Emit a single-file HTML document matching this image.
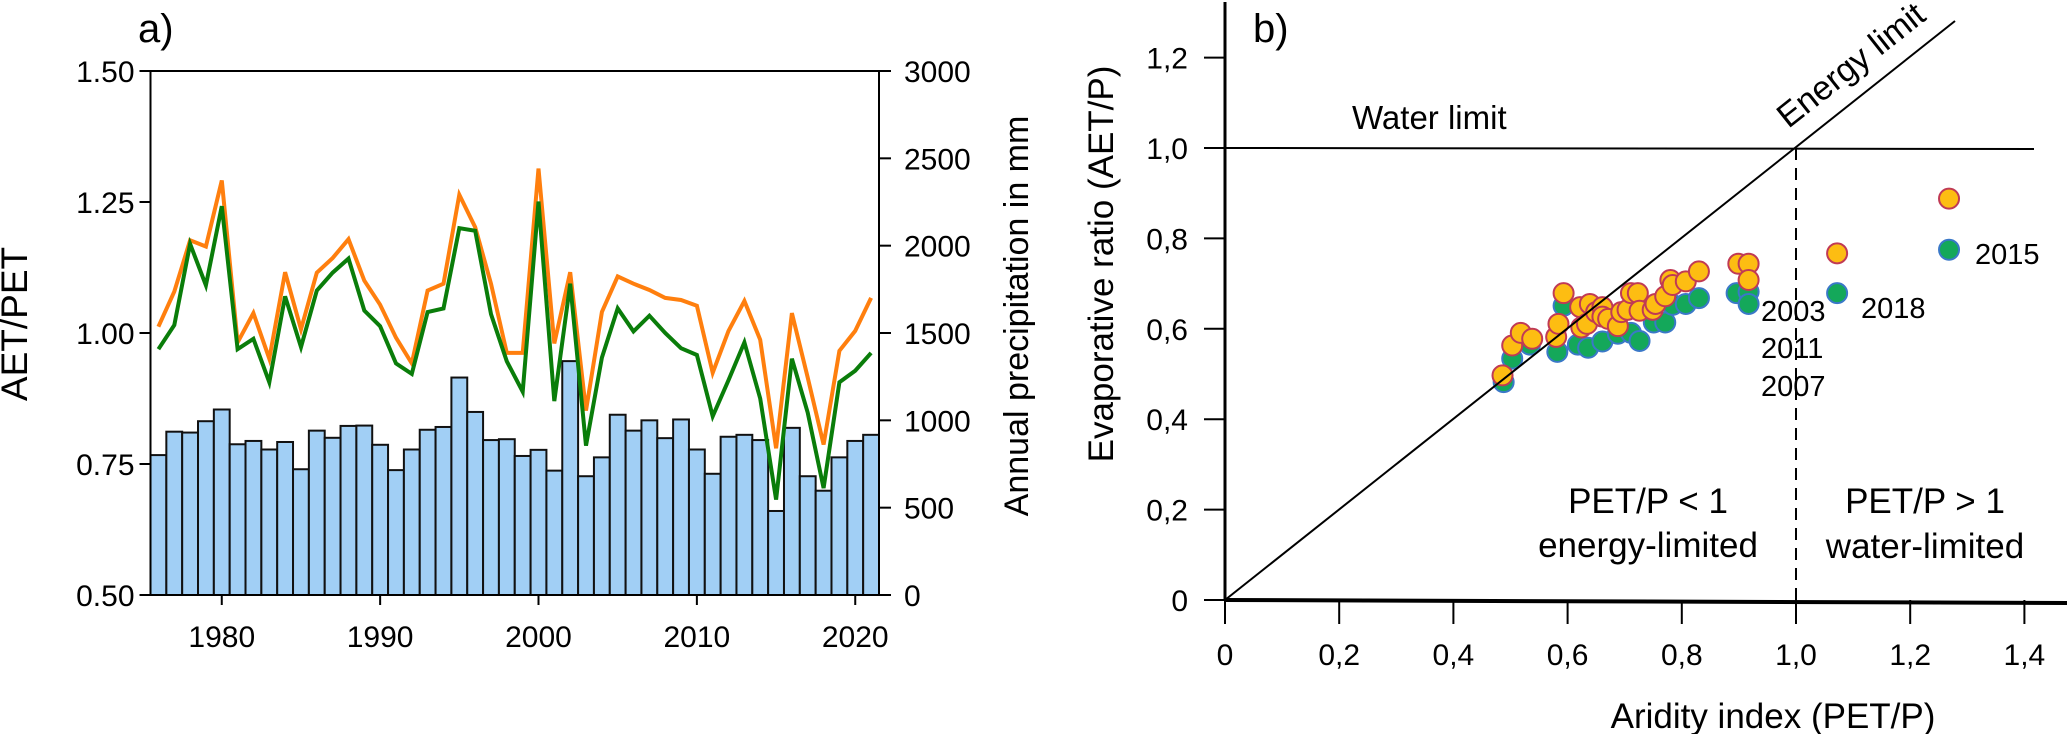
<!DOCTYPE html>
<html><head><meta charset="utf-8"><style>
html,body{margin:0;padding:0;background:#fff;}
svg{display:block;font-family:"Liberation Sans",sans-serif;}
</style></head><body>
<svg id="chart" width="2067" height="734" viewBox="0 0 2067 734" xmlns="http://www.w3.org/2000/svg">
<g id="pa"></g>
<g id="pb"></g>
</svg>
<script>
const years = [1976,1977,1978,1979,1980,1981,1982,1983,1984,1985,1986,1987,1988,1989,1990,1991,1992,1993,1994,1995,1996,1997,1998,1999,2000,2001,2002,2003,2004,2005,2006,2007,2008,2009,2010,2011,2012,2013,2014,2015,2016,2017,2018,2019,2020,2021];
const precip = [801,935,930,995,1062,863,882,833,876,720,941,900,968,970,860,715,833,946,962,1245,1048,887,892,796,831,712,1339,680,788,1032,941,1000,898,1005,833,694,906,917,887,481,957,680,597,788,882,917];
const orangeSeries = [1.012,1.079,1.177,1.165,1.291,0.982,1.038,0.951,1.116,1.007,1.115,1.143,1.179,1.100,1.054,0.991,0.942,1.081,1.094,1.264,1.202,1.094,0.962,0.962,1.314,0.980,1.116,0.852,1.040,1.108,1.094,1.082,1.067,1.063,1.052,0.924,1.004,1.061,0.987,0.780,1.038,0.915,0.787,0.966,1.004,1.067];
const greenSeries = [0.969,1.015,1.170,1.091,1.242,0.969,0.989,0.906,1.070,0.973,1.081,1.115,1.142,1.043,1.013,0.942,0.922,1.040,1.047,1.200,1.195,1.036,0.946,0.888,1.251,0.870,1.094,0.785,0.953,1.047,1.003,1.033,1.000,0.971,0.958,0.841,0.910,0.982,0.875,0.682,0.951,0.848,0.704,0.906,0.928,0.962];
const leftTicks = ["0.50","0.75","1.00","1.25","1.50"];
const leftTickVals = [0.5,0.75,1.0,1.25,1.5];
const rightTicks = ["0","500","1000","1500","2000","2500","3000"];
const rightTickVals = [0,500,1000,1500,2000,2500,3000];
const yearTicks = [1980,1990,2000,2010,2020];

const scatterOrangeX = [0.486,0.503,0.518,0.538,0.580,0.584,0.593,0.622,0.624,0.634,0.639,0.650,0.661,0.661,0.671,0.688,0.694,0.705,0.711,0.723,0.726,0.749,0.754,0.771,0.780,0.784,0.807,0.830,0.899,0.917,0.917,1.072,1.268];
const scatterOrangeY = [0.497,0.563,0.591,0.578,0.582,0.611,0.679,0.648,0.603,0.611,0.655,0.637,0.648,0.627,0.622,0.606,0.637,0.642,0.679,0.679,0.640,0.642,0.655,0.672,0.708,0.697,0.705,0.727,0.744,0.744,0.708,0.767,0.888];
const scatterGreenX = [0.488,0.503,0.534,0.582,0.593,0.618,0.636,0.661,0.688,0.711,0.726,0.751,0.771,0.784,0.807,0.830,0.896,0.917,0.917,1.072,1.268];
const scatterGreenY = [0.482,0.534,0.565,0.549,0.651,0.565,0.558,0.572,0.589,0.591,0.573,0.614,0.614,0.653,0.655,0.668,0.679,0.682,0.655,0.679,0.775];
const bTicks = ["0","0,2","0,4","0,6","0,8","1,0","1,2"];
const bTickVals = [0,0.2,0.4,0.6,0.8,1.0,1.2];
const bxTicks = ["0","0,2","0,4","0,6","0,8","1,0","1,2","1,4"];
const bxTickVals = [0,0.2,0.4,0.6,0.8,1.0,1.2,1.4];

const NS="http://www.w3.org/2000/svg";
function mk(parent,tag,attrs,text){const e=document.createElementNS(NS,tag);for(const k in attrs)e.setAttribute(k,attrs[k]);if(text!==undefined)e.textContent=text;parent.appendChild(e);return e;}

const L=150.5,R=879,T=71,B=595;
const xA=y=>L+(y-1976+0.5)*((R-L)/46);
const bw=(R-L)/46;
const yA=v=>B-(v-0.5)/1.0*(B-T);
const yP=v=>B-v/3000*(B-T);
const pa=document.getElementById('pa');
years.forEach((yr,i)=>{
  const r=mk(pa,'rect',{x:xA(yr)-bw/2,y:yP(precip[i]),width:bw,height:B-yP(precip[i]),fill:'#a1cff5',stroke:'#111','stroke-width':2});
  
  
});
function line(vals,color,name){
  const d=vals.map((v,i)=>(i?'L':'M')+xA(years[i]).toFixed(1)+','+yA(v).toFixed(1)).join(' ');
  const p=mk(pa,'path',{d:d,fill:'none',stroke:color,'stroke-width':4,'stroke-linejoin':'miter'});
  
  
}
line(orangeSeries,'#ff7f0e','orange-line');
line(greenSeries,'#0a7d0a','green-line');
const fr=mk(pa,'rect',{x:L,y:T,width:R-L,height:B-T,fill:'none',stroke:'#000','stroke-width':2});


leftTickVals.forEach((v,i)=>{
  mk(pa,'line',{x1:L-11,x2:L,y1:yA(v),y2:yA(v),stroke:'#000','stroke-width':2});
  const t=mk(pa,'text',{x:L-16,y:yA(v)+11,'text-anchor':'end','font-size':30},leftTicks[i]);
  
  
});
rightTickVals.forEach((v,i)=>{
  mk(pa,'line',{x1:R,x2:R+12,y1:yP(v),y2:yP(v),stroke:'#000','stroke-width':2});
  const t=mk(pa,'text',{x:R+25,y:yP(v)+11,'font-size':30},rightTicks[i]);
  
  
});
yearTicks.forEach(yr=>{
  mk(pa,'line',{x1:xA(yr),x2:xA(yr),y1:B,y2:B+10,stroke:'#000','stroke-width':2});
  const t=mk(pa,'text',{x:xA(yr),y:647,'text-anchor':'middle','font-size':30},String(yr));
  
  
});

const bx=v=>1225+v*571, by=v=>600-v*452;
const pb=document.getElementById('pb');
scatterGreenX.forEach((x,i)=>{
  const c=mk(pb,'circle',{cx:bx(x),cy:by(scatterGreenY[i]),r:10,fill:'#14a85a',stroke:'#3a78c8','stroke-width':2});
  
  
});
scatterOrangeX.forEach((x,i)=>{
  const c=mk(pb,'circle',{cx:bx(x),cy:by(scatterOrangeY[i]),r:10,fill:'#fdbd12',stroke:'#c03a55','stroke-width':2});
  
  
});
bTickVals.forEach((v,i)=>{
  mk(pb,'line',{x1:1204,x2:1225,y1:by(v),y2:by(v),stroke:'#000','stroke-width':2});
  const t=mk(pb,'text',{x:1188,y:by(v)+11,'text-anchor':'end','font-size':30},bTicks[i]);
  
  
});
bxTickVals.forEach((v,i)=>{
  mk(pb,'line',{x1:bx(v),x2:bx(v),y1:600,y2:624,stroke:'#000','stroke-width':2});
  const t=mk(pb,'text',{x:bx(v),y:665,'text-anchor':'middle','font-size':30},bxTicks[i]);
  
  
});
</script>
<svg style="position:absolute;left:0;top:0" width="2067" height="734" viewBox="0 0 2067 734" xmlns="http://www.w3.org/2000/svg" font-family="Liberation Sans, sans-serif">
<text x="138" y="42" font-size="40">a)</text>
<text transform="translate(27,324) rotate(-90)" text-anchor="middle" font-size="37">AET/PET</text>
<text transform="translate(1028,316) rotate(-90)" text-anchor="middle" font-size="34">Annual precipitation in mm</text>
<text x="1253" y="42" font-size="40">b)</text>
<line x1="1225" y1="2" x2="1225" y2="601" stroke="#000" stroke-width="3"/>
<line x1="1225" y1="600" x2="2067" y2="603" stroke="#000" stroke-width="4"/>
<line x1="1225" y1="600" x2="1955" y2="21" stroke="#000" stroke-width="2"/>
<line x1="1225" y1="148" x2="2034" y2="149" stroke="#000" stroke-width="2"/>
<line x1="1796" y1="148" x2="1796" y2="600" stroke="#000" stroke-width="2" stroke-dasharray="12,8"/>
<text x="1352" y="129" font-size="33">Water limit</text>
<text transform="translate(1858,74) rotate(-38.4)" text-anchor="middle" font-size="34">Energy limit</text>
<text x="1648" y="513" text-anchor="middle" font-size="35">PET/P &lt; 1</text>
<text x="1648" y="557" text-anchor="middle" font-size="35">energy-limited</text>
<text x="1925" y="513" text-anchor="middle" font-size="35">PET/P &gt; 1</text>
<text x="1925" y="558" text-anchor="middle" font-size="35">water-limited</text>
<text x="1761" y="321" font-size="29">2003</text>
<text x="1761" y="358" font-size="29">2011</text>
<text x="1761" y="396" font-size="29">2007</text>
<text x="1861" y="318" font-size="29">2018</text>
<text x="1975" y="264" font-size="29">2015</text>
<text transform="translate(1113,264) rotate(-90)" text-anchor="middle" font-size="35">Evaporative ratio (AET/P)</text>
<text x="1773" y="728" text-anchor="middle" font-size="35">Aridity index (PET/P)</text>
</svg>
</body></html>
